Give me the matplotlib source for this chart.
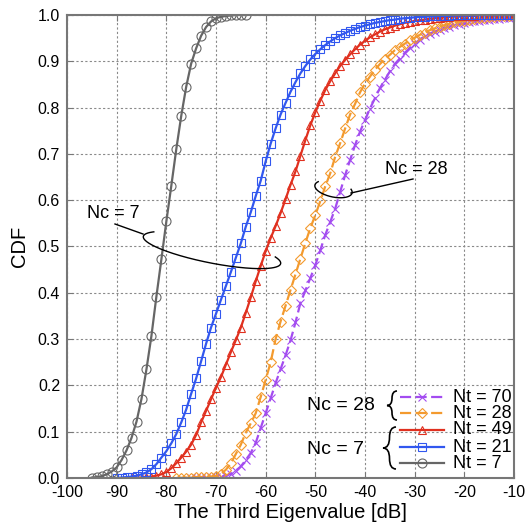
import numpy as np
import matplotlib
matplotlib.use('Agg')
import matplotlib.pyplot as plt
from matplotlib import transforms
from matplotlib.path import Path
from matplotlib.patches import PathPatch

plt.rcParams['font.family'] = ['Liberation Sans', 'DejaVu Sans']

# CDF values, one point per dB
gray_start = -95   # Nc = 7, Nt = 7
gray_cdf = [0.001, 0.002, 0.004, 0.008, 0.014, 0.023, 0.039, 0.060, 0.087, 0.122,
            0.171, 0.235, 0.307, 0.392, 0.472, 0.554, 0.631, 0.710, 0.782, 0.845,
            0.895, 0.928, 0.955, 0.974, 0.986, 0.993, 0.996, 0.998, 0.999, 1.0,
            1.0, 1.0]

blue_start = -90   # Nc = 7, Nt = 21
blue_cdf = [0.000, 0.001, 0.002, 0.003, 0.005, 0.008, 0.012, 0.019, 0.030, 0.044,
            0.058, 0.075, 0.095, 0.120, 0.148, 0.182, 0.215, 0.252, 0.290, 0.325,
            0.355, 0.385, 0.415, 0.445, 0.476, 0.507, 0.543, 0.574, 0.609, 0.642,
            0.684, 0.722, 0.755, 0.785, 0.810, 0.834, 0.855, 0.874, 0.890, 0.904,
            0.916, 0.926, 0.935, 0.943, 0.950, 0.956, 0.961, 0.966, 0.970, 0.974,
            0.977, 0.980, 0.983, 0.985, 0.987, 0.989, 0.990, 0.992, 0.993, 0.994,
            0.995, 0.996, 0.996, 0.997, 0.997, 0.998, 0.998, 0.998, 0.999, 0.999,
            0.999, 0.999, 0.999, 1.0, 1.0, 1.0, 1.0, 1.0, 1.0, 1.0,
            1.0]

red_start = -87    # Nc = 7, Nt = 49
red_cdf = [0.000, 0.0005, 0.001, 0.002, 0.003, 0.005, 0.008, 0.013, 0.021, 0.032,
           0.044, 0.057, 0.072, 0.093, 0.120, 0.145, 0.170, 0.195, 0.218, 0.245,
           0.272, 0.298, 0.325, 0.357, 0.390, 0.425, 0.458, 0.490, 0.518, 0.544,
           0.572, 0.602, 0.633, 0.662, 0.696, 0.730, 0.762, 0.790, 0.815, 0.838,
           0.857, 0.874, 0.890, 0.903, 0.915, 0.926, 0.936, 0.944, 0.952, 0.958,
           0.964, 0.969, 0.973, 0.977, 0.980, 0.983, 0.985, 0.987, 0.989, 0.990,
           0.992, 0.993, 0.994, 0.995, 0.996, 0.997, 0.997, 0.998, 0.998, 0.998,
           0.999, 0.999, 0.999, 0.999, 1.0, 1.0, 1.0, 1.0]

orange_start = -78  # Nc = 28, Nt = 28
orange_cdf = [0.000, 0.0005, 0.001, 0.001, 0.002, 0.002, 0.003, 0.003, 0.004, 0.009,
              0.018, 0.032, 0.052, 0.072, 0.098, 0.118, 0.140, 0.175, 0.212, 0.250,
              0.300, 0.338, 0.372, 0.406, 0.440, 0.474, 0.508, 0.540, 0.568, 0.598,
              0.630, 0.658, 0.694, 0.723, 0.755, 0.785, 0.808, 0.833, 0.852, 0.867,
              0.882, 0.894, 0.905, 0.914, 0.924, 0.931, 0.938, 0.945, 0.951, 0.957,
              0.962, 0.967, 0.971, 0.975, 0.978, 0.981, 0.984, 0.986, 0.988, 0.990,
              0.991, 0.993, 0.994, 0.995, 0.996, 0.997, 0.997, 0.998, 0.998]

purple_start = -75  # Nc = 28, Nt = 70
purple_cdf = [0.000, 0.0003, 0.0006, 0.001, 0.0015, 0.002, 0.003, 0.005, 0.009, 0.016,
              0.025, 0.039, 0.054, 0.076, 0.108, 0.140, 0.172, 0.205, 0.235, 0.265,
              0.297, 0.336, 0.378, 0.405, 0.432, 0.460, 0.492, 0.525, 0.553, 0.582,
              0.618, 0.654, 0.687, 0.719, 0.748, 0.773, 0.798, 0.820, 0.842, 0.860,
              0.878, 0.894, 0.906, 0.918, 0.929, 0.938, 0.947, 0.954, 0.960, 0.964,
              0.968, 0.972, 0.975, 0.978, 0.980, 0.982, 0.984, 0.986, 0.988, 0.989,
              0.990, 0.991, 0.992, 0.993, 0.994, 0.995]

x_ticks = np.arange(-100, 0, 10)
y_ticks = np.arange(0, 1.01, 0.1)

W, H = 525, 522
fig = plt.figure(figsize=(W / 100, H / 100), dpi=100)
ax = fig.add_axes([67 / W, 1 - 478 / H, (514 - 67) / W, (478 - 15) / H])
# pixel coords of the picture, origin top-left
pix = transforms.Affine2D().scale(1 / W, -1 / H).translate(0, 1) + fig.transFigure

series = [
    (purple_start, purple_cdf, '#a34cf0', 'x', (0, (5, 2)), 'Nt = 70'),
    (orange_start, orange_cdf, '#f39a2e', 'D', (0, (5, 2)), 'Nt = 28'),
    (red_start, red_cdf, '#e0301f', '^', '-', 'Nt = 49'),
    (blue_start, blue_cdf, '#3157ef', 's', '-', 'Nt = 21'),
    (gray_start, gray_cdf, '#666666', 'o', '-', 'Nt = 7'),
]
msize = {'x': 6, 'D': 5, '^': 6, 's': 5.5, 'o': 6.5}

for start, cdf, col, mk, ls, lab in series:
    xs = np.arange(start, start + len(cdf))
    ax.plot(xs, cdf, color=col, lw=1.6, ls=ls, marker=mk, ms=msize[mk],
            mfc='none', mec=col, mew=0.8, zorder=3)

ax.set_xlim(-100, -10)
ax.set_ylim(0, 1)
ax.set_xticks(x_ticks)
ax.set_yticks(y_ticks)
ax.set_xticklabels([str(v) for v in x_ticks])
ax.set_yticklabels(['%.1f' % v for v in y_ticks])
ax.tick_params(direction='in', length=4, top=True, right=True, labelsize=11.5,
               color='#777777', pad=5)
ax.grid(True, ls=(0, (2, 2)), color='#8a8a8a', lw=0.8)
for s in ax.spines.values():
    s.set_color('#777777')
    s.set_linewidth(1.5)
    s.set_zorder(5)
ax.set_xlabel('The Third Eigenvalue [dB]', fontsize=14.5, labelpad=2)
ax.set_ylabel('CDF', fontsize=14.5, labelpad=6)


def callout(cx, cy, a, b, ang, t1, t2):
    t = np.radians(np.linspace(t1, t2, 200))
    r = np.radians(ang)
    px = cx + a * np.cos(t) * np.cos(r) - b * np.sin(t) * np.sin(r)
    py = cy + a * np.cos(t) * np.sin(r) + b * np.sin(t) * np.cos(r)
    ax.plot(px, py, color='k', lw=1.0, transform=pix, clip_on=False, zorder=6)


def brace(x, y0, y1, w):
    ym = (y0 + y1) / 2
    r = min(w, (y1 - y0) / 4)
    xm = x + w / 2
    verts = [(x + w, y0), (xm, y0), (xm, y0 + r), (xm, ym - r), (xm, ym), (x, ym),
             (xm, ym), (xm, ym + r), (xm, y1 - r), (xm, y1), (x + w, y1)]
    codes = [Path.MOVETO, Path.CURVE3, Path.CURVE3, Path.LINETO, Path.CURVE3, Path.CURVE3,
             Path.CURVE3, Path.CURVE3, Path.LINETO, Path.CURVE3, Path.CURVE3]
    fig.add_artist(PathPatch(Path(verts, codes), fc='none', ec='k', lw=1.2, transform=pix))


# Nc = 7 callout
ax.text(87, 214, 'Nc = 7', fontsize=13, ha='left', va='center', transform=pix)
ax.plot([115, 143], [224, 234], color='k', lw=1.0, transform=pix, clip_on=False, zorder=6)
callout(212, 250, 70, 13, 11.2, -25, 210)

# Nc = 28 callout
ax.text(385, 170, 'Nc = 28', fontsize=13, ha='left', va='center', transform=pix)
ax.plot([413, 351], [179, 193], color='k', lw=1.0, transform=pix, clip_on=False, zorder=6)
callout(333.5, 189, 19, 8, 12, -25, 210)

# hand-made legend
leg_y = [397, 413, 430, 447, 463]
for (start, cdf, col, mk, ls, lab), y in zip(series, leg_y):
    ax.plot([400, 444], [y, y], color=col, lw=1.6, ls=ls, transform=pix, clip_on=False, zorder=6)
    ax.plot([422], [y], marker=mk, ms=msize[mk], mfc='none', mec=col, mew=0.8,
            transform=pix, clip_on=False, zorder=6)
    ax.text(453, y, lab, fontsize=13, ha='left', va='center', transform=pix)

ax.text(307, 406, 'Nc = 28', fontsize=14, ha='left', va='center', transform=pix)
ax.text(307, 449, 'Nc = 7', fontsize=14, ha='left', va='center', transform=pix)
brace(387, 391, 420, 10)
brace(383, 427, 469, 13)

fig.savefig('out.png', dpi=100, facecolor='white')
